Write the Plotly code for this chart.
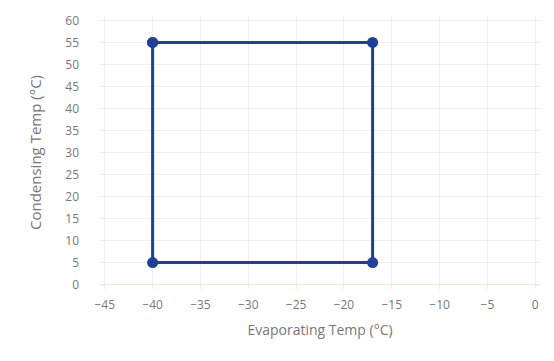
import plotly.graph_objects as go

evap_temp = [-40, -17, -17, -40, -40]
cond_temp = [55, 55, 5, 5, 55]
x_ticks = [-45, -40, -35, -30, -25, -20, -15, -10, -5, 0]
y_ticks = [0, 5, 10, 15, 20, 25, 30, 35, 40, 45, 50, 55, 60]

fig = go.Figure()
fig.add_trace(go.Scatter(
    x=evap_temp, y=cond_temp, mode="lines+markers",
    line=dict(color="#1e3f9a", width=3),
    marker=dict(color="#1e3f9a", size=11),
    showlegend=False,
))

fig.update_layout(
    width=554, height=361,
    margin=dict(l=92, r=22, t=8, b=80),
    paper_bgcolor="white", plot_bgcolor="white",
    font=dict(family="Open Sans", color="#777", size=12),
)
fig.update_xaxes(
    range=[-45.5, 0.5], tickvals=x_ticks, automargin=False,
    showgrid=True, gridcolor="#eeeeee", gridwidth=1,
    zeroline=False, showline=False, ticks="", ticklabelstandoff=7,
    title=dict(text="Evaporating Temp (°C)", font=dict(size=14, color="#777"), standoff=13),
)
fig.update_yaxes(
    range=[-1, 61], tickvals=y_ticks, automargin=False,
    showgrid=True, gridcolor="#eeeeee", gridwidth=1,
    zeroline=True, zerolinecolor="#f3e6d8", zerolinewidth=1,
    showline=False, ticks="", ticklabelstandoff=20,
    title=dict(text="Condensing Temp (°C)", font=dict(size=15, color="#777"), standoff=20),
)
fig.write_html("out.html")
